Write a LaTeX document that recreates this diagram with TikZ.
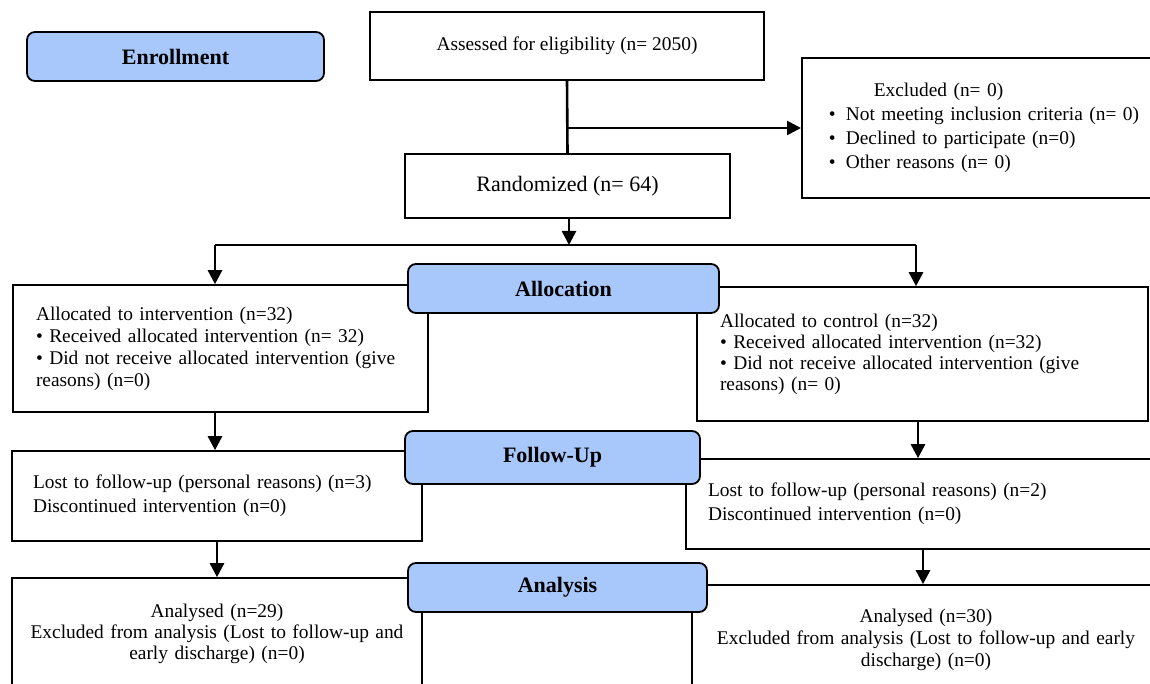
\documentclass[tikz,border=0pt]{standalone}
\usepackage{fontspec}
\setmainfont{Liberation Serif}
\usetikzlibrary{arrows.meta}
\definecolor{stageBlue}{RGB}{168,199,250}
\newcommand{\bul}{\makebox[17pt][l]{\textbullet}}

\begin{document}
\begin{tikzpicture}[x=1pt, y=-1pt,
  box/.style={draw, line width=1.6pt, inner sep=0pt, font=\fontsize{19.4}{23.5}\selectfont},
  stage/.style={draw, line width=1.8pt, fill=stageBlue, rounded corners=8pt, inner sep=0pt,
    font=\fontsize{22}{26}\selectfont\bfseries},
  link/.style={line width=2.6pt},
  arrow/.style={link, -{Triangle[length=14pt,width=14pt]}}]
  \clip (0,0) rectangle (1150,684);

  % boxes
  \node[box, minimum width=394pt, minimum height=68pt] (assessed) at (567,46) {Assessed for eligibility (n= 2050)};
  \node[box, anchor=west, minimum height=140pt, inner xsep=27pt, text width=340pt, align=left,
    font=\fontsize{19.4}{24}\selectfont] (excluded) at (801,128)
    {\hspace*{45pt}Excluded (n= 0)\\ \bul Not meeting inclusion criteria (n= 0)\\
     \bul Declined to participate (n=0)\\ \bul Other reasons (n= 0)};
  \node[box, minimum width=325pt, minimum height=64pt, font=\fontsize{22}{26}\selectfont] (random) at (567.5,186) {Randomized (n= 64)};

  \node[box, minimum width=415pt, minimum height=127pt, inner xsep=23pt, text width=369pt, align=left,
    font=\fontsize{19.4}{22}\selectfont] (allocL) at (220.5,348.5)
    {Allocated to intervention (n=32)\\ \textbullet{} Received allocated intervention (n= 32)\\
     \textbullet{} Did not receive allocated intervention (give\\ reasons) (n=0)};
  \node[box, minimum width=451pt, minimum height=134pt, inner xsep=23pt, text width=405pt, align=left,
    font=\fontsize{19.4}{21}\selectfont] (allocR) at (922.5,354)
    {Allocated to control (n=32)\\ \textbullet{} Received allocated intervention (n=32)\\
     \textbullet{} Did not receive allocated intervention (give\\ reasons) (n= 0)};

  \node[box, minimum width=410pt, minimum height=90pt, inner xsep=21pt, text width=368pt, align=left,
    font=\fontsize{19.4}{24}\selectfont] (fuL) at (217,496)
    {Lost to follow-up (personal reasons) (n=3)\\ Discontinued intervention (n=0)};
  \node[box, minimum width=474pt, minimum height=90pt, inner xsep=22pt, text width=430pt, align=left,
    font=\fontsize{19.4}{24}\selectfont] (fuR) at (923,504)
    {Lost to follow-up (personal reasons) (n=2)\\ Discontinued intervention (n=0)};

  \node[box, minimum width=410pt, minimum height=112pt, inner xsep=15pt, text width=380pt, align=center,
    font=\fontsize{19.4}{21}\selectfont] (anL) at (217,634)
    {Analysed (n=29)\\ Excluded from analysis (Lost to follow-up and\\ early discharge) (n=0)};
  \node[box, minimum width=468pt, minimum height=110pt, inner xsep=19pt, text width=430pt, align=center,
    font=\fontsize{19.4}{22}\selectfont] (anR) at (926,640)
    {Analysed (n=30)\\ Excluded from analysis (Lost to follow-up and early\\ discharge) (n=0)};

  % stage labels
  \node[stage, minimum width=297pt, minimum height=49pt] (enroll) at (175.5,56.5) {Enrollment};
  \node[stage, minimum width=311pt, minimum height=49pt] (alloc) at (563.5,288.5) {Allocation};
  \node[stage, minimum width=295pt, minimum height=53pt] (follow) at (552.5,457.5) {Follow-Up};
  \node[stage, minimum width=299pt, minimum height=49pt] (analysis) at (557.5,587.5) {Analysis};

  % connectors
  \coordinate (branch) at (assessed.south |- excluded.west);
  \coordinate (split) at (569,245);
  \coordinate (splitL) at (215,245);
  \coordinate (splitR) at (916,245);
  \draw[link] (assessed.south) -- (random.north);
  \draw[arrow] (branch) -- (excluded.west);
  \draw[arrow] (random.south -| split) -- (split);
  \draw[link] (splitL) -- (splitR);
  \draw[arrow] (splitL) -- (allocL.north -| splitL);
  \draw[arrow] (splitR) -- (allocR.north -| splitR);
  \draw[arrow] (allocL.south -| splitL) -- (fuL.north -| splitL);
  \draw[arrow] ([xshift=2pt]allocR.south -| splitR) -- ([xshift=2pt]fuR.north -| splitR);
  \draw[arrow] (fuL.south) -- (anL.north);
  \draw[arrow] (fuR.south) -- (fuR.south |- anR.north);
\end{tikzpicture}
\end{document}
